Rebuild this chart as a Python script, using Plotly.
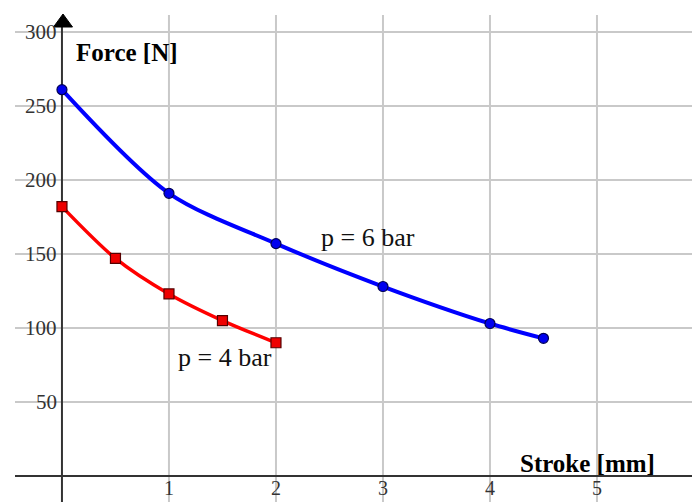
import plotly.graph_objects as go

# Force vs. stroke for two supply pressures
stroke_6bar = [0, 1, 2, 3, 4, 4.5]
force_6bar = [261, 191, 157, 128, 103, 93]
stroke_4bar = [0, 0.5, 1, 1.5, 2]
force_4bar = [182, 147, 123, 105, 90]

x_ticks = [1, 2, 3, 4, 5]
y_ticks = [50, 100, 150, 200, 250, 300]

W, H = 692, 502
X_RANGE = [-0.579, 5.888]
Y_RANGE = [-17.6, 321.6]

FONT = "Liberation Serif"
GRID = "#c9c9c9"
AXIS = "#333333"


def dx(px):
    """Pixel column -> x data value."""
    return X_RANGE[0] + px / W * (X_RANGE[1] - X_RANGE[0])


def dy(py):
    """Pixel row -> y data value."""
    return Y_RANGE[1] - py / H * (Y_RANGE[1] - Y_RANGE[0])


fig = go.Figure()

fig.add_trace(go.Scatter(
    x=stroke_6bar, y=force_6bar, mode="lines+markers",
    line=dict(color="#0000ff", width=4, shape="spline", smoothing=0.85),
    marker=dict(symbol="circle", size=10, color="#0000ee",
                line=dict(color="#000055", width=1.2)),
    name="p = 6 bar",
))
fig.add_trace(go.Scatter(
    x=stroke_4bar, y=force_4bar, mode="lines+markers",
    line=dict(color="#ff0000", width=3.5, shape="spline", smoothing=0.85),
    marker=dict(symbol="square", size=10, color="#ee0000",
                line=dict(color="#550000", width=1.2)),
    name="p = 4 bar",
))

shapes = []
# grid
for v in x_ticks:
    shapes.append(dict(type="line", xref="x", yref="y", x0=v, x1=v,
                       y0=Y_RANGE[0], y1=dy(15), layer="below",
                       line=dict(color=GRID, width=2)))
for v in y_ticks:
    shapes.append(dict(type="line", xref="x", yref="y", x0=dx(15), x1=X_RANGE[1],
                       y0=v, y1=v, layer="below",
                       line=dict(color=GRID, width=2)))
# axes
shapes.append(dict(type="line", xref="x", yref="y", x0=dx(15), x1=X_RANGE[1],
                   y0=0, y1=0, layer="below", line=dict(color=AXIS, width=2)))
shapes.append(dict(type="line", xref="x", yref="y", x0=0, x1=0,
                   y0=Y_RANGE[0], y1=dy(26), layer="below",
                   line=dict(color=AXIS, width=2)))
# arrow head on the force axis
shapes.append(dict(type="path", xref="x", yref="y", layer="above",
                   path=f"M {dx(53.5)} {dy(27)} L {dx(72.5)} {dy(27)} L {dx(63)} {dy(14)} Z",
                   fillcolor="#000000", line=dict(color="#000000", width=1)))

annotations = []
for v in y_ticks:
    annotations.append(dict(x=0, y=v, xref="x", yref="y", text=str(v),
                            showarrow=False, xanchor="right", yanchor="middle",
                            xshift=-3, font=dict(family=FONT, size=21, color=AXIS)))
for v in x_ticks:
    annotations.append(dict(x=v, y=dy(488), xref="x", yref="y", text=str(v),
                            showarrow=False, xanchor="center", yanchor="middle",
                            font=dict(family=FONT, size=20, color=AXIS)))

annotations += [
    dict(x=dx(74), y=dy(52), xref="x", yref="y", text="<b>Force [N]</b>",
         showarrow=False, xanchor="left", yanchor="middle",
         font=dict(family=FONT, size=25, color="#000000")),
    dict(x=dx(657), y=dy(463), xref="x", yref="y", text="<b>Stroke [mm]</b>",
         showarrow=False, xanchor="right", yanchor="middle",
         font=dict(family=FONT, size=25, color="#000000")),
    dict(x=dx(319), y=dy(237), xref="x", yref="y", text="p = 6 bar",
         showarrow=False, xanchor="left", yanchor="middle",
         font=dict(family=FONT, size=26, color="#111111")),
    dict(x=dx(176), y=dy(357), xref="x", yref="y", text="p = 4 bar",
         showarrow=False, xanchor="left", yanchor="middle",
         font=dict(family=FONT, size=26, color="#111111")),
]

fig.update_layout(
    width=W, height=H,
    margin=dict(l=0, r=0, t=0, b=0),
    paper_bgcolor="white", plot_bgcolor="white",
    showlegend=False,
    shapes=shapes,
    annotations=annotations,
    xaxis=dict(range=X_RANGE, visible=False, fixedrange=True),
    yaxis=dict(range=Y_RANGE, visible=False, fixedrange=True),
)

fig.write_html("out.html")
